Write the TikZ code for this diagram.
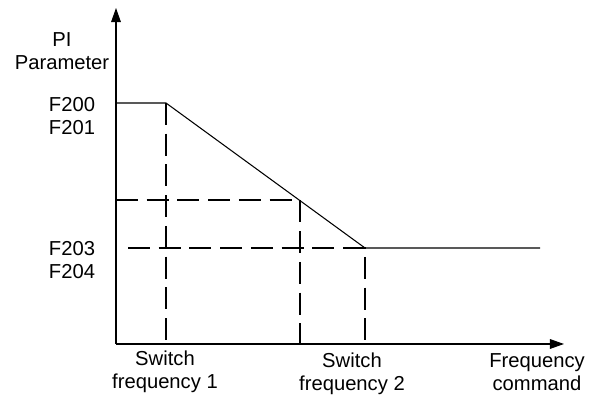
\documentclass[tikz,border=0pt]{standalone}
\usepackage{fontspec}
\setmainfont{Liberation Sans}
\usetikzlibrary{positioning, arrows.meta}
\tikzset{
>={Triangle[length=8pt,width=5.5pt]}, % filled arrow heads on the axes
axis/.style={line width=0.6pt, ->}, % the two axes
curve/.style={line width=0.6pt}, % the PI parameter line
guide/.style={line width=1.5pt, dash pattern=on 12.5pt off 5pt}, % dashed helper lines
lbl/.style={font=\fontsize{11.5}{13.2}\selectfont, align=center, inner sep=0pt}, % all texts
}

\begin{document}
\begin{tikzpicture}[x=0.02cm, y=-0.02cm]
\useasboundingbox (0,0) rectangle (589,398);
% axes
\coordinate (O) at (116,344);
\coordinate (ytop) at (116,8);
\coordinate (xend) at (564,344);
\draw[axis] (O) -- (ytop);
\draw[axis] (O) -- (xend);
% parameter line
\coordinate (y0) at (116,103);
\coordinate (p1) at (166,103);
\coordinate (p2) at (300,200);
\coordinate (p3) at (365,248);
\coordinate (pend) at (540,248);
\draw[curve] (y0) -- (p1) -- (p3) -- (pend);
% dashed guides
\coordinate (x1) at (166,344);
\coordinate (x2) at (300,344);
\coordinate (x3) at (365,344);
\coordinate (ym) at (116,200);
\coordinate (yl) at (128,248);
\draw[guide] (p1) -- (x1);
\draw[guide] (ym) -- (p2) -- (x2);
\draw[guide] (yl) -- (p3) -- (x3);
% labels
\node[lbl] (ylabel) at (62,51) {PI\\Parameter};
\node[lbl] (f200) at (72,116) {F200\\F201};
\node[lbl] (f203) at (72,260) {F203\\F204};
\node[lbl] (sw1) at (165,372) {Switch\\frequency 1};
\node[lbl] (sw2) at (352,374) {Switch\\frequency 2};
\node[lbl] (fcmd) at (537,372) {Frequency\\command};
\end{tikzpicture}
\end{document}
